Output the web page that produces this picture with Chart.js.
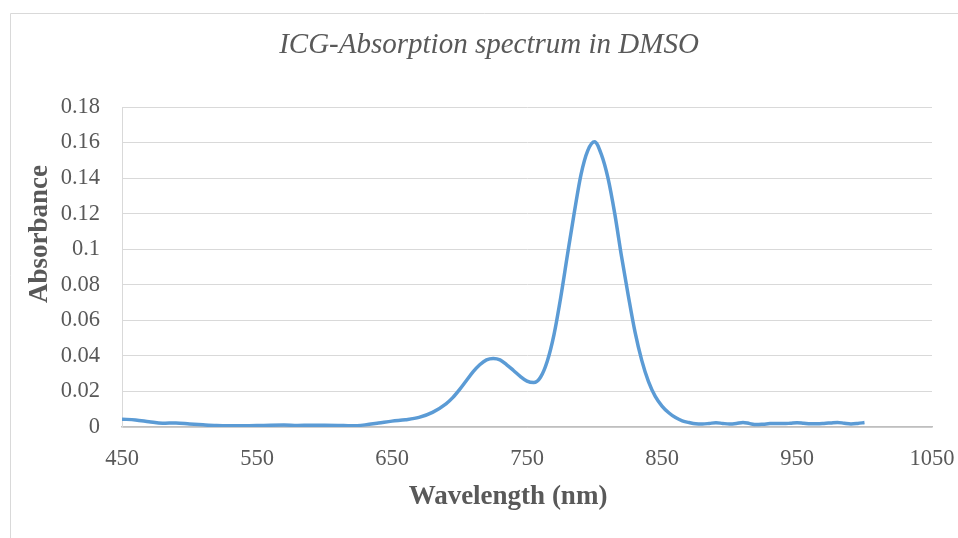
<!DOCTYPE html>
<html lang="en">
<head>
    <meta charset="UTF-8">
    <title>ICG-Absorption spectrum in DMSO</title>
    <script src="https://cdn.jsdelivr.net/npm/chart.js"></script>
    <style>
        body { margin: 0; background: #ffffff; }
        #wrap { width: 958px; height: 538px; }
    </style>
</head>
<body>
<div id="wrap"><canvas id="spectrum"></canvas></div>
<script>
  // wavelengths (nm) and absorbance
  const wavelengths = [450, 460, 470, 480, 490, 500, 510, 520, 530, 540, 550, 560, 570, 580, 590, 600, 610, 620, 630, 640,
    650, 660, 670, 680, 690, 695, 700, 705, 710, 715, 720, 725, 730, 735, 740, 745, 750, 755, 760, 765,
    770, 775, 780, 785, 790, 795, 800, 805, 810, 815, 820, 825, 830, 835, 840, 845, 850, 855, 860, 865,
    870, 875, 880, 885, 890, 895, 900, 905, 910, 915, 920, 925, 930, 935, 940, 945, 950, 955, 960, 965,
    970, 975, 980, 985, 990, 995, 1000];
  const absorbance = [0.0044, 0.0040, 0.0030, 0.0021, 0.0023, 0.0017, 0.0012, 0.0008, 0.0007, 0.0007, 0.0008, 0.0010, 0.0011, 0.0009, 0.0010, 0.0010, 0.0009, 0.0007, 0.0012, 0.0022,
    0.0033, 0.0041, 0.0054, 0.0082, 0.0130, 0.0165, 0.0210, 0.0260, 0.0310, 0.0350, 0.0378, 0.0386, 0.0378, 0.0350, 0.0318, 0.0285, 0.0258, 0.0250, 0.0280, 0.0370,
    0.0520, 0.0730, 0.0970, 0.1205, 0.1420, 0.1555, 0.1605, 0.1535, 0.1400, 0.1200, 0.0960, 0.0740, 0.0535, 0.0375, 0.0255, 0.0172, 0.0118, 0.0080, 0.0053, 0.0035,
    0.0025, 0.0018, 0.0017, 0.0020, 0.0024, 0.0020, 0.0017, 0.0020, 0.0026, 0.0019, 0.0014, 0.0016, 0.0019, 0.0020, 0.0019, 0.0021, 0.0024, 0.0021, 0.0018, 0.0018,
    0.0020, 0.0023, 0.0026, 0.0021, 0.0017, 0.0020, 0.0025];
  const xTicks = [450, 550, 650, 750, 850, 950, 1050];
  const yTicks = [0, 0.02, 0.04, 0.06, 0.08, 0.1, 0.12, 0.14, 0.16, 0.18];

  const chartTitle = 'ICG-Absorption spectrum in DMSO';
  const xTitle = 'Wavelength (nm)';
  const yTitle = 'Absorbance';

  const points = wavelengths.map((w, i) => ({ x: w, y: absorbance[i] }));

  // frame and titles, placed like the original sheet chart
  const decorations = {
    id: 'decorations',
    beforeDraw(chart) {
      const ctx = chart.ctx;
      ctx.save();
      ctx.strokeStyle = '#d9d9d9';
      ctx.lineWidth = 1;
      ctx.beginPath();
      ctx.moveTo(10.5, 538);
      ctx.lineTo(10.5, 13.5);
      ctx.lineTo(958, 13.5);
      ctx.stroke();
      ctx.restore();
    },
    afterDraw(chart) {
      const ctx = chart.ctx;
      ctx.save();
      ctx.fillStyle = '#595959';
      ctx.textAlign = 'center';
      ctx.textBaseline = 'alphabetic';
      ctx.font = 'italic 29px "Liberation Serif"';
      ctx.fillText(chartTitle, 489, 53);
      ctx.font = 'bold 27px "Liberation Serif"';
      ctx.fillText(xTitle, 508, 504);
      ctx.translate(46.5, 234);
      ctx.rotate(-Math.PI / 2);
      ctx.fillText(yTitle, 0, 0);
      ctx.restore();
    }
  };

  new Chart(document.getElementById('spectrum'), {
    type: 'line',
    data: {
      datasets: [{
        label: yTitle,
        data: points,
        borderColor: '#5b9bd5',
        borderWidth: 3.5,
        pointRadius: 0,
        fill: false,
        cubicInterpolationMode: 'monotone'
      }]
    },
    options: {
      responsive: true,
      maintainAspectRatio: false,
      animation: false,
      layout: { padding: { left: 0, right: 26, top: 107, bottom: 0 } },
      plugins: { legend: { display: false }, tooltip: { enabled: false } },
      scales: {
        x: {
          type: 'linear',
          min: 450,
          max: 1050,
          afterFit: s => { s.height = 111; s.paddingLeft = 0; s.paddingRight = 0; },
          afterBuildTicks: s => { s.ticks = xTicks.map(v => ({ value: v })); },
          grid: { display: false, drawTicks: false },
          border: { display: true, color: '#bfbfbf', width: 1.5 },
          ticks: {
            padding: 19,
            color: '#595959',
            font: { family: 'Liberation Serif', size: 22.5 },
            callback: v => String(v)
          }
        },
        y: {
          min: 0,
          max: 0.18,
          afterFit: s => { s.width = 122; s.paddingTop = 0; s.paddingBottom = 0; },
          afterBuildTicks: s => { s.ticks = yTicks.map(v => ({ value: v })); },
          grid: { color: '#d9d9d9', lineWidth: 1, drawTicks: false },
          border: { display: true, color: '#d9d9d9', width: 1 },
          ticks: {
            padding: 22,
            color: '#595959',
            font: { family: 'Liberation Serif', size: 22.5 },
            callback: v => String(+v.toFixed(2))
          }
        }
      }
    },
    plugins: [decorations]
  });
</script>
</body>
</html>
